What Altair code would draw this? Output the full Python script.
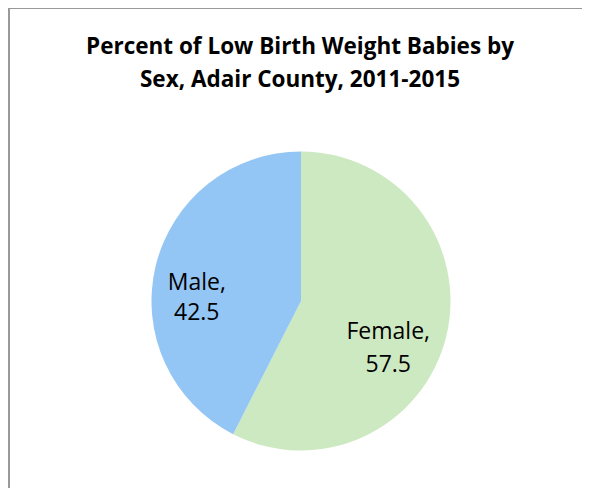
import altair as alt
import pandas as pd
import math

categories = ["Female", "Male"]
values = [57.5, 42.5]
labels = ["Female,\n57.5", "Male,\n42.5"]
colors = ["#cde9c2", "#93c5f5"]
title_lines = ["Percent of Low Birth Weight Babies by", "Sex, Adair County, 2011-2015"]

df = pd.DataFrame({"sex": categories, "value": values, "label": labels, "order": [0, 1]})

CX, CY, R = 293, 293, 149.5
font = "Open Sans"

pie = alt.Chart(df).mark_arc(outerRadius=R, strokeWidth=0).encode(
    theta=alt.Theta("value:Q", stack=True),
    order=alt.Order("order:Q"),
    color=alt.Color("sex:N", scale=alt.Scale(domain=categories, range=colors), legend=None),
    x=alt.value(CX),
    y=alt.value(CY),
)

labels_base = alt.Chart(df).transform_window(
    cum="sum(value)", sort=[alt.SortField("order")], frame=[None, 0]
).transform_calculate(
    mid="datum.cum - datum.value / 2"
)

def label_layer(cat, dx, dy, lh):
    return labels_base.transform_filter(alt.datum.sex == cat).mark_text(
        radius=100, lineBreak="\n", font=font, fontSize=23, color="#000000",
        dx=dx, dy=dy, lineHeight=lh, align="center", baseline="middle",
    ).encode(
        theta=alt.Theta("mid:Q", stack=False, scale=alt.Scale(domain=[0, 100], range=[0, 2 * math.pi])),
        text="label:N", x=alt.value(CX), y=alt.value(CY),
    )

fem = label_layer("Female", -10, 8, 33)
male = label_layer("Male", -7, 5, 30)

tdf = pd.DataFrame({"line": title_lines})

def title_layer(i, yv):
    return alt.Chart(tdf).transform_filter(alt.datum.line == title_lines[i]).mark_text(
        font=font, fontSize=22.5, fontWeight="bold", color="#000000",
        align="center", baseline="alphabetic",
    ).encode(text="line:N", x=alt.value(292), y=alt.value(yv))

t1 = title_layer(0, 46)
t2 = title_layer(1, 79)

border_top = alt.Chart(tdf).mark_rule(color="#999999", strokeWidth=2).encode(
    x=alt.value(0), x2=alt.value(700), y=alt.value(0)
)
border_left = alt.Chart(tdf).mark_rule(color="#999999", strokeWidth=4).encode(
    x=alt.value(0), y=alt.value(0), y2=alt.value(700)
)

chart = alt.layer(pie, fem, male, t1, t2, border_top, border_left).properties(
    width=574, height=480, autosize=alt.AutoSizeParams(type="none"), padding=0
).configure_view(stroke=None).resolve_scale(theta="independent")

chart.save("out.html", embed_options={"renderer": "svg", "actions": False})
